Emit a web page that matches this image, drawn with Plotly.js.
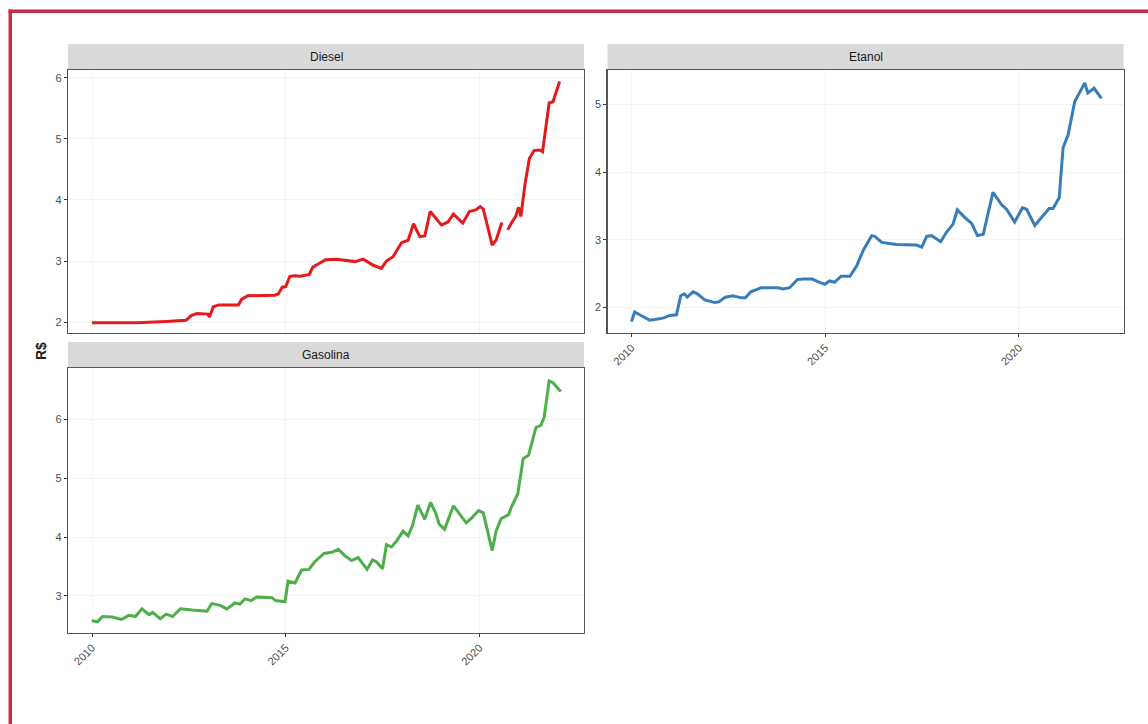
<!DOCTYPE html>
<html>
<head>
<meta charset="utf-8">
<script src="https://cdn.plot.ly/plotly-3.0.1.min.js"></script>
<style>
  html, body { margin: 0; padding: 0; background: #ffffff; }
  #chart { width: 1148px; height: 724px; }
</style>
</head>
<body>
<div id="chart"></div>
<script>
// Preço médio de revenda dos combustíveis (R$/litro), 2010–2022

// Diesel (null marks the missing stretch in the series)
const dieselYear = [2010.00, 2011.16, 2011.91, 2012.43, 2012.57, 2012.71, 2012.99, 2013.03, 2013.13, 2013.27,
  2013.78, 2013.86, 2014.02, 2014.72, 2014.81, 2014.91, 2015.00, 2015.11, 2015.23, 2015.37,
  2015.61, 2015.70, 2015.84, 2016.03, 2016.31, 2016.79, 2017.00, 2017.26, 2017.47, 2017.60,
  2017.77, 2017.99, 2018.16, 2018.30, 2018.46, 2018.59, 2018.73, 2019.02, 2019.19, 2019.33,
  2019.57, 2019.74, 2019.92, 2020.02, 2020.10, 2020.33, 2020.43, 2020.58, 2020.65, 2020.73,
  2020.84, 2020.94, 2021.01, 2021.07, 2021.18, 2021.29, 2021.41, 2021.56, 2021.63, 2021.80,
  2021.90, 2022.07];
const dieselPrice = [1.99, 1.99, 2.01, 2.03, 2.11, 2.14, 2.13, 2.08, 2.25, 2.28,
  2.28, 2.37, 2.43, 2.44, 2.46, 2.57, 2.58, 2.75, 2.76, 2.75,
  2.78, 2.90, 2.95, 3.02, 3.03, 2.99, 3.03, 2.93, 2.88, 3.00,
  3.07, 3.30, 3.34, 3.61, 3.40, 3.41, 3.81, 3.59, 3.64, 3.77,
  3.62, 3.81, 3.84, 3.89, 3.85, 3.26, 3.34, 3.63, null, 3.51,
  3.64, 3.73, 3.88, 3.73, 4.27, 4.68, 4.81, 4.82, 4.79, 5.59,
  5.61, 5.94];

// Etanol
const etanolYear = [2010.00, 2010.08, 2010.21, 2010.47, 2010.60, 2010.81, 2010.99, 2011.16, 2011.27, 2011.36,
  2011.44, 2011.59, 2011.70, 2011.89, 2012.15, 2012.25, 2012.42, 2012.62, 2012.83, 2012.94,
  2013.08, 2013.35, 2013.78, 2013.91, 2014.08, 2014.28, 2014.43, 2014.66, 2014.81, 2014.99,
  2015.11, 2015.24, 2015.41, 2015.64, 2015.81, 2015.98, 2016.20, 2016.28, 2016.46, 2016.84,
  2017.36, 2017.49, 2017.62, 2017.75, 2017.98, 2018.13, 2018.30, 2018.41, 2018.60, 2018.78,
  2018.93, 2019.08, 2019.33, 2019.55, 2019.68, 2019.89, 2020.09, 2020.20, 2020.41, 2020.58,
  2020.78, 2020.88, 2021.04, 2021.14, 2021.27, 2021.44, 2021.57, 2021.70, 2021.78, 2021.94,
  2022.13];
const etanolPrice = [1.79, 1.93, 1.89, 1.81, 1.82, 1.84, 1.88, 1.89, 2.17, 2.20,
  2.15, 2.23, 2.20, 2.11, 2.07, 2.08, 2.15, 2.17, 2.14, 2.14,
  2.23, 2.29, 2.29, 2.27, 2.29, 2.41, 2.42, 2.42, 2.38, 2.34,
  2.39, 2.37, 2.46, 2.46, 2.61, 2.84, 3.06, 3.05, 2.96, 2.93,
  2.92, 2.89, 3.05, 3.06, 2.97, 3.11, 3.23, 3.44, 3.33, 3.24,
  3.06, 3.08, 3.70, 3.52, 3.45, 3.26, 3.47, 3.45, 3.21, 3.33,
  3.46, 3.46, 3.62, 4.36, 4.55, 5.04, 5.17, 5.32, 5.17, 5.24,
  5.09];

// Gasolina
const gasolinaYear = [2009.99, 2010.14, 2010.27, 2010.52, 2010.76, 2010.95, 2011.12, 2011.29, 2011.47, 2011.57,
  2011.76, 2011.91, 2012.08, 2012.28, 2012.58, 2012.97, 2013.09, 2013.31, 2013.48, 2013.69,
  2013.82, 2013.95, 2014.11, 2014.25, 2014.64, 2014.74, 2014.98, 2015.06, 2015.24, 2015.41,
  2015.60, 2015.75, 2015.99, 2016.19, 2016.36, 2016.53, 2016.70, 2016.87, 2017.10, 2017.24,
  2017.34, 2017.50, 2017.60, 2017.73, 2017.86, 2018.03, 2018.16, 2018.27, 2018.41, 2018.59,
  2018.74, 2018.87, 2018.96, 2019.10, 2019.33, 2019.49, 2019.66, 2019.81, 2019.98, 2020.10,
  2020.17, 2020.33, 2020.43, 2020.56, 2020.75, 2020.84, 2020.99, 2021.13, 2021.27, 2021.46,
  2021.59, 2021.67, 2021.80, 2021.90, 2022.10];
const gasolinaPrice = [2.58, 2.56, 2.65, 2.64, 2.60, 2.67, 2.65, 2.78, 2.68, 2.72,
  2.61, 2.69, 2.65, 2.78, 2.76, 2.74, 2.87, 2.84, 2.78, 2.88,
  2.86, 2.95, 2.92, 2.98, 2.97, 2.92, 2.90, 3.25, 3.22, 3.44,
  3.45, 3.58, 3.72, 3.74, 3.79, 3.68, 3.60, 3.65, 3.45, 3.61,
  3.58, 3.46, 3.87, 3.83, 3.93, 4.10, 4.02, 4.19, 4.54, 4.30,
  4.59, 4.41, 4.22, 4.13, 4.53, 4.38, 4.24, 4.33, 4.45, 4.41,
  4.21, 3.77, 4.10, 4.31, 4.38, 4.53, 4.73, 5.33, 5.39, 5.86,
  5.90, 6.03, 6.65, 6.62, 6.47];

const panelNames = ['Diesel', 'Etanol', 'Gasolina'];
const lineColors = ['#e41a1c', '#377eb8', '#4daf4a'];
const xTickVals = [2010, 2015, 2020];
const xTickLabels = ['2010', '2015', '2020'];
const yTitle = 'R$';

// ---- figure geometry (pixels) ----
const W = 1148, H = 724;
const px = v => v / W;
const py = v => 1 - v / H;

const font = 'Liberation Sans, Arial, Helvetica, sans-serif';
const xRange = [2009.38, 2022.70];

const panels = [
  { x0: 68,    x1: 584,    y0: 70,  y1: 333, stripTop: 44 },   // Diesel
  { x0: 607.5, x1: 1123.5, y0: 70,  y1: 333, stripTop: 44 },   // Etanol
  { x0: 68,    x1: 584,    y0: 368, y1: 633, stripTop: 342 }   // Gasolina
];

const traces = [
  { x: dieselYear,   y: dieselPrice,   xaxis: 'x',  yaxis: 'y'  },
  { x: etanolYear,   y: etanolPrice,   xaxis: 'x2', yaxis: 'y2' },
  { x: gasolinaYear, y: gasolinaPrice, xaxis: 'x3', yaxis: 'y3' }
].map((t, i) => Object.assign(t, {
  type: 'scatter', mode: 'lines', name: panelNames[i],
  line: { color: lineColors[i], width: 3, shape: 'linear' },
  connectgaps: false, showlegend: false, hoverinfo: 'x+y'
}));

function xAxis(p, anchor, showLabels) {
  return {
    domain: [px(p.x0), px(p.x1)], anchor: anchor, range: xRange,
    tickmode: 'array', tickvals: xTickVals, ticktext: xTickLabels,
    showticklabels: showLabels, ticks: showLabels ? 'outside' : '',
    ticklen: 3, tickwidth: 1, tickcolor: '#333333', tickangle: -45,
    tickfont: { family: font, size: 11, color: '#4d4d4d' },
    showline: true, mirror: true, linecolor: '#555555', linewidth: 1.2,
    showgrid: true, gridcolor: '#f4f4f4', gridwidth: 1, zeroline: false
  };
}
function yAxis(p, anchor, range, ticks) {
  return {
    domain: [py(p.y1), py(p.y0)], anchor: anchor, range: range,
    tickmode: 'array', tickvals: ticks, ticktext: ticks.map(String),
    ticks: 'outside', ticklen: 3, tickwidth: 1, tickcolor: '#333333',
    tickfont: { family: font, size: 11, color: '#4d4d4d' },
    showline: true, mirror: true, linecolor: '#555555', linewidth: 1.2,
    showgrid: true, gridcolor: '#f4f4f4', gridwidth: 1, zeroline: false
  };
}

const shapes = [];
const annotations = [];

panels.forEach((p, i) => {
  // facet strip
  shapes.push({
    type: 'rect', xref: 'paper', yref: 'paper', layer: 'below',
    x0: px(p.x0), x1: px(p.x1), y0: py(p.y0), y1: py(p.stripTop),
    fillcolor: '#d9d9d9', line: { width: 0 }
  });
  annotations.push({
    xref: 'paper', yref: 'paper', showarrow: false,
    x: px((p.x0 + p.x1) / 2), y: py((p.y0 + p.stripTop) / 2),
    xanchor: 'center', yanchor: 'middle',
    text: panelNames[i], font: { family: font, size: 12, color: '#1a1a1a' }
  });
});

// shared y-axis title
annotations.push({
  xref: 'paper', yref: 'paper', showarrow: false,
  x: px(41), y: py(351), xanchor: 'center', yanchor: 'middle',
  textangle: -90, text: '<b>' + yTitle + '</b>',
  font: { family: font, size: 14, color: '#222222' }
});

// page frame
const frameColor = '#c0304a';
shapes.push({ type: 'line', xref: 'paper', yref: 'paper',
  x0: px(8.6), x1: 1, y0: py(11.3), y1: py(11.3), line: { color: frameColor, width: 3.5 } });
shapes.push({ type: 'line', xref: 'paper', yref: 'paper',
  x0: px(10.3), x1: px(10.3), y0: py(9.6), y1: 0, line: { color: frameColor, width: 3.5 } });

const layout = {
  width: W, height: H,
  margin: { l: 0, r: 0, t: 0, b: 0 },
  paper_bgcolor: '#ffffff', plot_bgcolor: '#ffffff',
  font: { family: font },
  xaxis:  xAxis(panels[0], 'y',  false),
  yaxis:  yAxis(panels[0], 'x',  [1.82, 6.13], [2, 3, 4, 5, 6]),
  xaxis2: xAxis(panels[1], 'y2', true),
  yaxis2: yAxis(panels[1], 'x2', [1.62, 5.51], [2, 3, 4, 5]),
  xaxis3: xAxis(panels[2], 'y3', true),
  yaxis3: yAxis(panels[2], 'x3', [2.37, 6.87], [3, 4, 5, 6]),
  shapes: shapes,
  annotations: annotations
};

Plotly.newPlot('chart', traces, layout, { displayModeBar: false, staticPlot: true });
</script>
</body>
</html>
